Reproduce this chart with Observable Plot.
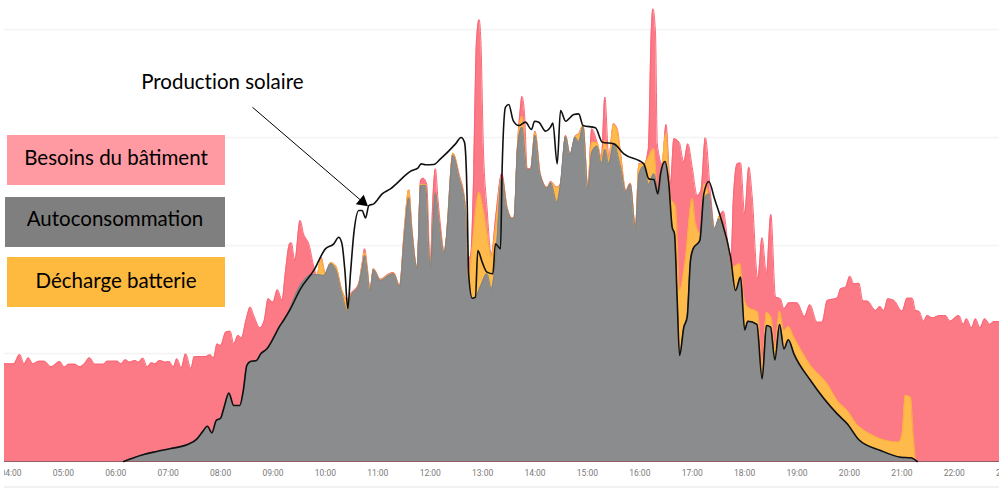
<!DOCTYPE html>
<html lang="fr">
<head>
<meta charset="utf-8">
<script src="https://cdn.jsdelivr.net/npm/d3@7"></script>
<script src="https://cdn.jsdelivr.net/npm/@observablehq/plot@0.6"></script>
<style>
html,body{margin:0;padding:0;background:#fff;}
#wrap{position:relative;width:1003px;height:488px;overflow:hidden;font-variant-ligatures:none;}
#chart{position:absolute;left:4px;top:0;}
#chart text{font-variant-ligatures:none;}
.box{position:absolute;display:flex;align-items:center;justify-content:center;font:20.5px Lato,sans-serif;color:#000;box-sizing:border-box;}
#foot{position:absolute;left:4px;width:995px;top:486px;height:2px;background:#f1f1f1;}
</style>
</head>
<body>
<div id="wrap">
<div id="chart"></div>
<div class="box" style="left:7px;top:135px;width:218px;height:50px;padding-bottom:6px;background:#ff9aa2;">Besoins du bâtiment</div>
<div class="box" style="left:5px;top:197px;width:220px;height:50px;padding-bottom:9px;background:#7f7f7f;">Autoconsommation</div>
<div class="box" style="left:7px;top:257px;width:218px;height:50px;padding-bottom:4px;background:#feb93f;">Décharge batterie</div>
<div id="foot"></div>
</div>
<script>
// [minutes since midnight, power]
const besoins = [[232,9.04],[243,9.04],[250,9.91],[255,9.04],[260,9.6],[265,9.04],[272,9.29],[278,9.29],[286,8.77],[296,9.26],[301,8.73],[306,9.01],[313,9.01],[319,8.77],[324,9.04],[330,9.6],[336,9.01],[346,9.01],[350,9.29],[362,9.29],[366,9.04],[371,9.41],[376,9.2],[382,9.35],[386,9.2],[391,9.57],[396,8.77],[401,9.14],[405,9.04],[410,9.35],[417,9.2],[421,9.26],[426,8.77],[430,9.51],[435,8.67],[440,9.97],[446,8.61],[450,9.72],[463,9.72],[468,9.88],[472,9.6],[476,10.89],[480,10.74],[486,11.98],[491,12.07],[495,10.89],[500,11.67],[504,11.45],[509,13.06],[514,14.29],[518,13.52],[525,12.38],[530,13.06],[534.5,15.06],[540,14.75],[545,15.9],[550.5,14.91],[554,17.38],[559,20.15],[561,20.25],[565,18.61],[571,22.31],[575,21.08],[581,20.15],[587,17.99],[590.5,17.22],[595,18.92],[600,17.38],[606,18.4],[611.5,18.15],[619,15.83],[625,15.0],[629,15.52],[638,16.45],[642,18.3],[645,19.69],[648,17.99],[651,15.9],[655,17.84],[663,16.88],[673,17.38],[678,17.5],[685,16.3],[690,21.08],[695.5,25.15],[699,21.7],[705,17.99],[709,26.02],[712,26.23],[716,25.7],[720,18.15],[723,24.17],[726,27.1],[729,24.17],[732,21.7],[736,19.38],[739,21.08],[746,28.55],[753,26.64],[760,23.86],[763,18.92],[766,18.92],[770,27.25],[773,38.98],[776,40.9],[778,38.98],[781,28.8],[785,23.55],[790,19.07],[795,22.62],[802,26.64],[808,23.55],[814,22.56],[816,22.62],[820,29.41],[823,32.5],[825,33.8],[828,32.2],[831,27.1],[835,27.1],[840,30.59],[846,26.64],[854,25.4],[858,25.93],[865,25.4],[869,25.7],[875,30.19],[880,28.43],[886,30.12],[890,30.34],[895,31.11],[900.5,25.4],[905,30.8],[911,29.57],[916,28.18],[920,33.73],[924.5,28.18],[930,31.27],[934,30.8],[938,28.49],[944,25.09],[949,25.77],[955,21.7],[959,27.56],[965,27.56],[970,29.1],[973,39.6],[975,41.91],[978,39.6],[980,29.4],[985.6,27.56],[990,31.2],[995,25.7],[999,29.88],[1005,29.57],[1010.4,27.72],[1015,29.41],[1020,27.25],[1025.7,24.63],[1030,25.09],[1035,29.97],[1041,24.78],[1045.5,21.54],[1051.6,22.78],[1055.5,23.18],[1062,19.54],[1064.6,18.9],[1067,24.17],[1071.5,27.56],[1075.3,27.65],[1080,22.93],[1084.8,27.25],[1088.7,24.48],[1095,16.91],[1100,20.71],[1105,17.38],[1110,22.87],[1115.4,15.22],[1121,15.06],[1125,14.14],[1130.7,14.69],[1140,14.69],[1148.6,13.43],[1154.7,14.51],[1163,12.9],[1168.8,12.9],[1174.6,14.91],[1186,15.15],[1190,15.99],[1195.5,16.14],[1200.5,17.16],[1205,16.45],[1210.8,16.51],[1215.4,14.85],[1220.4,14.85],[1230,13.98],[1234.9,14.35],[1239.4,13.98],[1244,15.06],[1250.9,14.91],[1260.4,13.92],[1266,15.12],[1271.9,15.12],[1275.7,13.98],[1279.5,13.92],[1285,12.99],[1289,13.52],[1294.8,13.3],[1304,13.52],[1310,13.52],[1315,12.99],[1325.3,13.52],[1330.3,12.69],[1334,13.21],[1339.8,12.38],[1344.4,13.21],[1349.4,12.38],[1355,13.21],[1360.8,12.69],[1365.4,12.96],[1372,12.96]];

const decharge = [[583,17.13],[590.5,17.31],[595,18.77],[600,17.38],[606,18.4],[611.5,18.15],[619,15.83],[625,14.9],[629,15.37],[638,16.39],[642,18.06],[645,19.38],[648,17.75],[651,15.83],[655,17.8],[663,16.82],[673,17.31],[678,17.44],[685,16.23],[690,20.77],[695.5,25.15],[699,21.39],[705,17.93],[709,25.65],[714.6,25.65],[720,18.09],[726,24.88],[730,22.31],[736,19.38],[739,21.08],[746,28.55],[753,26.48],[760,23.7],[764,17.07],[768,19.69],[773,23.86],[776,24.94],[779.5,23.86],[783,22.31],[787,20.15],[790,18.92],[795,21.7],[802,26.33],[808,23.49],[814,22.5],[816,22.56],[820,29.26],[825,31.94],[831,27.04],[835,27.04],[840,30.49],[846,26.57],[854,25.34],[858,25.86],[865,25.34],[869,25.65],[875,30.12],[880,28.4],[886,30.06],[890,30.28],[895,31.11],[900.5,25.34],[905,29.57],[911,29.51],[916,28.02],[920,29.72],[924.5,28.02],[930,31.2],[934,30.71],[938,28.43],[944,25.03],[949,25.71],[955,21.64],[959,27.5],[965,27.56],[970,28.18],[976,28.95],[980.6,24.63],[984.5,26.48],[990,30.34],[995,24.48],[1001,23.55],[1005.5,15.83],[1012,18.61],[1020,24.32],[1024,22.0],[1029.5,21.08],[1034,25.71],[1039,24.63],[1045.5,21.54],[1051.6,22.78],[1058,20.46],[1065.8,17.99],[1074.5,18.3],[1079,15.22],[1083.7,14.29],[1095,13.83],[1100,8.73],[1105,13.77],[1110.4,13.36],[1114.6,10.43],[1120,13.92],[1125,12.13],[1130,12.5],[1136.4,11.51],[1155.5,8.89],[1174.6,7.19],[1186,5.65],[1197.5,4.72],[1210.8,3.24],[1256.6,1.79],[1260.4,2.56],[1264,6.11],[1270,5.96],[1273,2.56],[1275.7,0]];

const autoconso = [[232,0],[369,0],[379,0.31],[392,0.65],[407,0.93],[423,1.2],[442,1.57],[453,2.1],[459,2.72],[465,3.27],[470,2.65],[475,3.8],[480,4.01],[484,5.03],[489.5,6.33],[495,5.19],[502,5.19],[506,6.57],[510,8.89],[514,9.26],[521,9.35],[526,9.97],[533,10.43],[541,11.51],[547,12.44],[552,13.06],[560,14.29],[566,15.52],[575,16.76],[583,17.28],[590.5,17.31],[598,17.22],[606,18.3],[611.5,17.84],[619,15.52],[625.6,13.9],[629,15.22],[638,16.3],[642,17.84],[645,19.07],[648,17.53],[651,15.77],[655,17.75],[663,16.76],[673,17.25],[678,17.38],[685,16.2],[690,20.46],[695.5,24.41],[699,21.39],[705,17.87],[709,25.56],[714.6,25.56],[720,18.06],[726,24.88],[730,22.31],[736,19.32],[739,21.02],[746,28.33],[753,26.33],[760,23.55],[764,16.76],[769,15.06],[773,15.37],[778,16.3],[785,17.38],[790,15.99],[795,18.77],[802,26.33],[808,23.4],[814,22.47],[816,22.53],[820,29.1],[825,30.96],[831,27.01],[835,27.01],[840,30.19],[846,26.54],[854,25.31],[858,25.8],[865,24.01],[869,25.62],[875,30.09],[880,28.4],[886,30.03],[890,29.57],[895,31.02],[900.5,25.31],[905,28.64],[911,29.2],[916,27.56],[920,28.89],[924.5,27.56],[930,29.41],[938,27.25],[944,25.0],[949,25.68],[955,21.6],[959,26.57],[965,27.35],[970,25.65],[976,26.64],[982,24.72],[984.5,26.48],[989.4,27.78],[993,25.4],[997,21.7],[999.7,21.08],[1002.8,14.91],[1005.5,9.81],[1010.4,12.44],[1014,13.36],[1018,18.61],[1021,19.69],[1028.7,20.46],[1033,24.17],[1039,24.78],[1045.5,21.54],[1050.5,22.47],[1060,19.85],[1069.6,15.83],[1075.3,17.07],[1080,12.19],[1083.7,12.99],[1094,12.69],[1100,7.65],[1105,12.59],[1109.7,12.44],[1114.6,9.41],[1120,12.69],[1125,10.43],[1130,11.27],[1136.4,9.97],[1155.5,7.5],[1186,4.41],[1197.5,3.49],[1210.8,2.01],[1235.6,1.02],[1258.5,0.4],[1270,0.34],[1277.6,0],[1372,0]];

const production = [[369,0],[379,0.31],[392,0.65],[407,0.93],[423,1.2],[442,1.57],[453,2.1],[459,2.72],[465,3.27],[470,2.65],[475,3.8],[480,4.01],[484,5.03],[489.5,6.33],[495,5.19],[502,5.19],[506,6.57],[510,8.89],[514,9.26],[521,9.35],[526,9.97],[533,10.43],[541,11.51],[547,12.44],[552,13.06],[560,14.14],[571.5,15.99],[586.7,17.69],[600,19.69],[609.6,20.15],[615.3,20.77],[619,20.15],[622.5,17.5],[625.6,14.14],[628.7,17.38],[632.5,21.08],[638.3,23.24],[642,23.24],[646,22.56],[649.7,23.7],[655.4,23.86],[665,24.78],[674.5,25.25],[699,26.94],[705.8,27.16],[709.6,27.56],[714.6,27.47],[724,27.5],[731.8,28.02],[749,29.41],[755.4,30.0],[759.2,29.57],[761.5,26.64],[762.3,24.17],[764,17.38],[768,15.12],[771.8,15.22],[774.5,19.54],[779.5,18.46],[785,17.53],[791.7,17.38],[794.7,20.15],[800.5,19.69],[802.4,27.25],[806.2,32.81],[810,33.06],[815,31.57],[821.5,31.11],[829,31.42],[836,30.74],[839.4,31.51],[844.4,31.42],[852,30.59],[857.7,30.96],[860.4,31.33],[865.4,27.56],[869.2,32.5],[875,31.51],[884.4,32.13],[890,32.19],[895,31.11],[909.2,30.9],[917,29.57],[930.2,29.41],[941.7,28.49],[964.6,27.56],[970.3,26.17],[976,26.11],[980.6,24.78],[983.7,26.64],[988.6,27.78],[993.2,25.71],[997,21.7],[999.7,21.08],[1002.8,14.91],[1005.5,9.81],[1010.4,12.44],[1014.2,13.36],[1018,18.61],[1021,19.69],[1028.7,20.46],[1033.3,24.78],[1039,25.93],[1045.5,24.32],[1052.4,22.62],[1063.9,18.92],[1069.6,15.83],[1075.3,17.07],[1080,12.19],[1083.7,12.99],[1094,12.69],[1100,7.65],[1105,12.59],[1109.7,12.44],[1114.6,9.41],[1120,12.69],[1125,10.43],[1130,11.27],[1136.4,9.97],[1155.5,7.5],[1186,4.41],[1197.5,3.49],[1210.8,2.01],[1235.6,1.02],[1258.5,0.4],[1270,0.34],[1277.6,0]];

const hourTicks = [240,300,360,420,480,540,600,660,720,780,840,900,960,1020,1080,1140,1200,1260,1320,1380];
const gridValues = [10,20,30,40];
const noteLabel = "Production solaire";
const noteTextAt = [[482,35.1]];
const noteArrowFrom = [516.5,32.8];
const noteHeadAt = [642.5,24.05];
const noteHeadAngle = 130;

const fmtHour = m => String(m/60).padStart(2,"0") + ":00";
const curve = "monotone-x";
const X = d => d[0], Y = d => d[1];

const plot = Plot.plot({
  width: 995, height: 488,
  marginTop: 0, marginLeft: 0, marginRight: 0, marginBottom: 27,
  style: {background:"transparent"},
  x: {domain:[232.6,1371.8]},
  y: {domain:[0,42.685], axis:null},
  marks: [
    Plot.ruleY(gridValues,{stroke:"#f3f3f3",strokeWidth:1.5}),
    Plot.areaY(besoins,{x:X,y:Y,curve,fill:"#fb7a85"}),
    Plot.lineY(besoins,{x:X,y:Y,curve,stroke:"#fb6676",strokeWidth:1}),
    Plot.areaY(decharge,{x:X,y:Y,curve,fill:"#feba4a"}),
    Plot.lineY(decharge,{x:X,y:Y,curve,stroke:"#fdb03c",strokeWidth:1}),
    Plot.areaY(autoconso,{x:X,y:Y,curve,fill:"#8b8c8e"}),
    Plot.lineY(autoconso,{x:X,y:Y,curve,stroke:"#838383",strokeWidth:1}),
    Plot.ruleY([0],{stroke:"#8f5d62",strokeWidth:1}),
    Plot.lineY(production,{x:X,y:Y,curve,stroke:"#111",strokeWidth:1.6}),
    Plot.axisX(hourTicks,{anchor:"bottom",tickSize:0,tickPadding:8,fontSize:8.5,fontFamily:"Roboto",fill:"#7a7a7a",tickFormat:fmtHour,label:null}),
    Plot.text(noteTextAt,{x:X,y:Y,text:()=>noteLabel,fontSize:20.5,fontFamily:"Lato",fill:"#000",textAnchor:"middle"}),
    Plot.link([0],{x1:()=>noteArrowFrom[0],y1:()=>noteArrowFrom[1],x2:()=>noteHeadAt[0],y2:()=>noteHeadAt[1],stroke:"#000",strokeWidth:1}),
    Plot.dot([noteHeadAt],{x:X,y:Y,symbol:"triangle",r:4.6,fill:"#000",stroke:"none",rotate:noteHeadAngle})
  ]
});
document.getElementById("chart").append(plot);
</script>
</body>
</html>
